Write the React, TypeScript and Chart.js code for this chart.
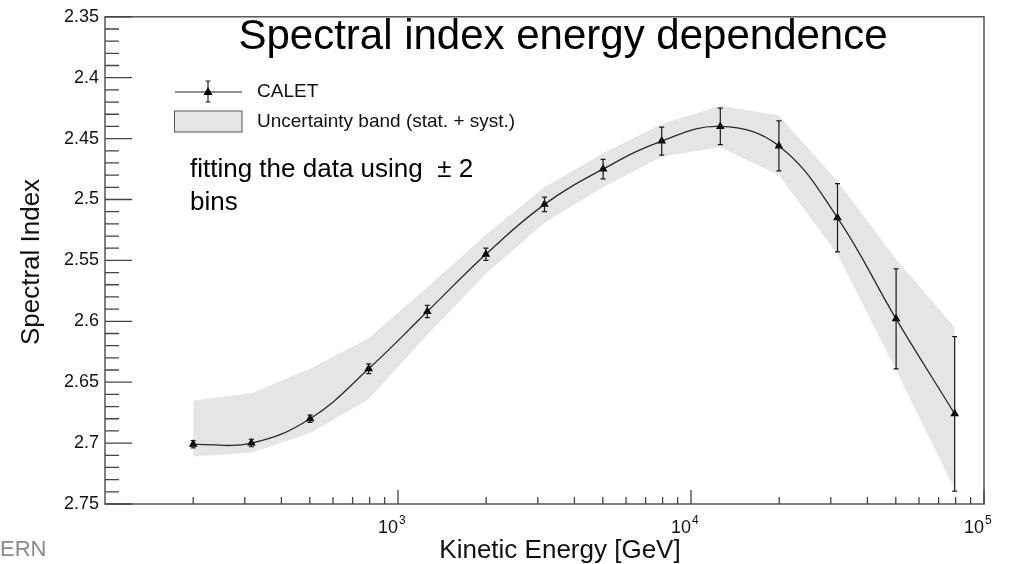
import { useEffect, useRef } from 'react';
import { Chart, registerables } from 'chart.js';

Chart.register(...registerables);

// ---- data ----
const energies = [200, 316, 501, 794, 1259, 1995, 3162, 5012, 7943, 12589, 19953, 31623, 50119, 79433];
const spectralIndex = [2.701, 2.7, 2.68, 2.639, 2.592, 2.545, 2.504, 2.475, 2.452, 2.44, 2.456, 2.515, 2.598, 2.676];
const indexErrors = [0.003, 0.003, 0.003, 0.004, 0.005, 0.005, 0.006, 0.008, 0.0115, 0.015, 0.0205, 0.028, 0.041, 0.0635];
const bandUpper = [2.665, 2.659, 2.639, 2.614, 2.572, 2.529, 2.49, 2.462, 2.438, 2.423, 2.431, 2.485, 2.549, 2.605];
const bandLower = [2.711, 2.708, 2.692, 2.664, 2.611, 2.561, 2.519, 2.49, 2.465, 2.457, 2.48, 2.545, 2.64, 2.738];
const xMajorTicks = [1000, 10000, 100000];
const xMajorExponents = ['3', '4', '5'];
const xDecades = [100, 1000, 10000];
const xMinorFactors = [2, 3, 4, 5, 6, 7, 8, 9];
const yMajorTicks = [2.35, 2.4, 2.45, 2.5, 2.55, 2.6, 2.65, 2.7, 2.75];
const yMinorTicks = [2.36, 2.37, 2.38, 2.39, 2.41, 2.42, 2.43, 2.44, 2.46, 2.47, 2.48, 2.49, 2.51, 2.52, 2.53, 2.54, 2.56, 2.57, 2.58, 2.59, 2.61, 2.62, 2.63, 2.64, 2.66, 2.67, 2.68, 2.69, 2.71, 2.72, 2.73, 2.74];

const titleText = 'Spectral index energy dependence';
const xTitle = 'Kinetic Energy [GeV]';
const yTitle = 'Spectral Index';
const legendCalet = 'CALET';
const legendBand = 'Uncertainty band (stat. + syst.)';
const noteLine1 = 'fitting the data using  \u00B1 2';
const noteLine2 = 'bins';
const watermark = 'ERN';

const FONT = '"Liberation Sans", Arial, Helvetica, sans-serif';

const decorPlugin = {
  id: 'decor',
  afterDatasetsDraw(chart: any) {
    const ctx = chart.ctx as CanvasRenderingContext2D;
    const xs = chart.scales.x;
    const ys = chart.scales.y;
    const ca = chart.chartArea;
    ctx.save();

    // error bars
    ctx.strokeStyle = '#1a1a1a';
    ctx.lineWidth = 1.2;
    energies.forEach((e, i) => {
      const px = xs.getPixelForValue(e);
      const y1 = ys.getPixelForValue(spectralIndex[i] - indexErrors[i]);
      const y2 = ys.getPixelForValue(spectralIndex[i] + indexErrors[i]);
      ctx.beginPath();
      ctx.moveTo(px, y1);
      ctx.lineTo(px, y2);
      ctx.moveTo(px - 2.5, y1);
      ctx.lineTo(px + 2.5, y1);
      ctx.moveTo(px - 2.5, y2);
      ctx.lineTo(px + 2.5, y2);
      ctx.stroke();
    });

    // frame
    ctx.strokeStyle = '#555';
    ctx.lineWidth = 1.5;
    ctx.strokeRect(ca.left, ca.top, ca.right - ca.left, ca.bottom - ca.top);

    // y ticks (inward)
    ctx.lineWidth = 1.3;
    ctx.strokeStyle = '#444';
    ctx.beginPath();
    yMajorTicks.forEach((v) => {
      const py = ys.getPixelForValue(v);
      ctx.moveTo(ca.left, py);
      ctx.lineTo(ca.left + 27, py);
    });
    yMinorTicks.forEach((v) => {
      const py = ys.getPixelForValue(v);
      ctx.moveTo(ca.left, py);
      ctx.lineTo(ca.left + 14, py);
    });
    // x ticks
    xMajorTicks.forEach((v) => {
      const px = xs.getPixelForValue(v);
      ctx.moveTo(px, ca.bottom);
      ctx.lineTo(px, ca.bottom - 14);
    });
    xDecades.forEach((d) => {
      xMinorFactors.forEach((f) => {
        const px = xs.getPixelForValue(d * f);
        ctx.moveTo(px, ca.bottom);
        ctx.lineTo(px, ca.bottom - 7);
      });
    });
    ctx.stroke();

    // x tick labels 10^n
    ctx.fillStyle = '#111';
    ctx.textBaseline = 'alphabetic';
    xMajorTicks.forEach((v, i) => {
      const px = xs.getPixelForValue(v);
      ctx.font = `18px ${FONT}`;
      ctx.textAlign = 'right';
      ctx.fillText('10', px, 533);
      ctx.font = `12px ${FONT}`;
      ctx.textAlign = 'left';
      ctx.fillText(xMajorExponents[i], px + 1, 524);
    });

    // axis titles
    ctx.font = `26px ${FONT}`;
    ctx.textAlign = 'center';
    ctx.fillText(xTitle, 560, 558);
    ctx.save();
    ctx.translate(32, 262);
    ctx.rotate(-Math.PI / 2);
    ctx.textBaseline = 'middle';
    ctx.fillText(yTitle, 0, 0);
    ctx.restore();

    // title
    ctx.font = `42px ${FONT}`;
    ctx.textAlign = 'center';
    ctx.textBaseline = 'alphabetic';
    ctx.fillStyle = '#000';
    ctx.fillText(titleText, 563, 49);

    // legend
    ctx.strokeStyle = '#222';
    ctx.lineWidth = 1.2;
    ctx.beginPath();
    ctx.moveTo(175, 92);
    ctx.lineTo(242, 92);
    ctx.moveTo(208, 81);
    ctx.lineTo(208, 102);
    ctx.moveTo(205.5, 81);
    ctx.lineTo(210.5, 81);
    ctx.moveTo(205.5, 102);
    ctx.lineTo(210.5, 102);
    ctx.stroke();
    ctx.fillStyle = '#000';
    ctx.beginPath();
    ctx.moveTo(208, 87);
    ctx.lineTo(212.5, 95);
    ctx.lineTo(203.5, 95);
    ctx.closePath();
    ctx.fill();
    ctx.fillStyle = '#e6e6e6';
    ctx.fillRect(174.5, 111, 67.5, 21);
    ctx.strokeStyle = '#555';
    ctx.lineWidth = 1;
    ctx.strokeRect(174.5, 111, 67.5, 21);
    ctx.fillStyle = '#111';
    ctx.font = `19px ${FONT}`;
    ctx.textAlign = 'left';
    ctx.textBaseline = 'middle';
    ctx.fillText(legendCalet, 257, 92);
    ctx.fillText(legendBand, 257, 122);

    // note
    ctx.font = `26px ${FONT}`;
    ctx.textBaseline = 'alphabetic';
    ctx.fillStyle = '#000';
    ctx.fillText(noteLine1, 190, 177);
    ctx.fillText(noteLine2, 190, 210);

    // watermark
    ctx.font = `22px ${FONT}`;
    ctx.fillStyle = '#8a8a8a';
    ctx.fillText(watermark, 0, 556);

    ctx.restore();
  },
};

export default function App() {
  const ref = useRef<HTMLCanvasElement | null>(null);
  useEffect(() => {
    document.body.style.margin = '0';
    const canvas = ref.current;
    if (!canvas) return;
    const chart = new Chart(canvas, {
      type: 'line',
      data: {
        datasets: [
          {
            label: 'CALET',
            data: energies.map((e, i) => ({ x: e, y: spectralIndex[i] })),
            borderColor: '#2a2a2a',
            borderWidth: 1.3,
            pointStyle: 'triangle',
            pointRadius: 5,
            pointBackgroundColor: '#000',
            pointBorderColor: '#000',
            pointBorderWidth: 0,
            tension: 0.4,
            fill: false,
            order: 0,
          },
          {
            label: 'bandUpper',
            data: energies.map((e, i) => ({ x: e, y: bandUpper[i] })),
            borderWidth: 0,
            borderColor: 'rgba(0,0,0,0)',
            pointRadius: 0,
            tension: 0,
            fill: false,
            order: 2,
          },
          {
            label: 'bandLower',
            data: energies.map((e, i) => ({ x: e, y: bandLower[i] })),
            borderWidth: 0,
            borderColor: 'rgba(0,0,0,0)',
            backgroundColor: '#e5e5e5',
            pointRadius: 0,
            tension: 0,
            fill: '-1',
            order: 1,
          },
        ],
      },
      options: {
        animation: false,
        responsive: true,
        maintainAspectRatio: false,
        layout: { padding: { left: 0, top: 16, right: 28, bottom: 0 } },
        plugins: { legend: { display: false }, tooltip: { enabled: false } },
        scales: {
          x: {
            type: 'logarithmic',
            min: 100,
            max: 100000,
            grid: { display: false, drawTicks: false },
            border: { display: false },
            ticks: { display: false },
            afterFit: (s: any) => { s.height = 60; },
          },
          y: {
            type: 'linear',
            reverse: true,
            min: 2.35,
            max: 2.75,
            grid: { display: false, drawTicks: false },
            border: { display: false },
            afterBuildTicks: (s: any) => { s.ticks = yMajorTicks.map((v) => ({ value: v })); },
            ticks: {
              padding: 6,
              color: '#111',
              font: { family: FONT, size: 18 },
              callback: (v: any) => String(Number(Number(v).toFixed(2))),
            },
            afterFit: (s: any) => { s.width = 105; },
          },
        },
      },
      plugins: [decorPlugin],
    });
    return () => chart.destroy();
  }, []);
  return (
    <div style={{ position: 'absolute', left: 0, top: 0, width: 1012, height: 564, background: '#fff' }}>
      <canvas ref={ref} />
    </div>
  );
}
